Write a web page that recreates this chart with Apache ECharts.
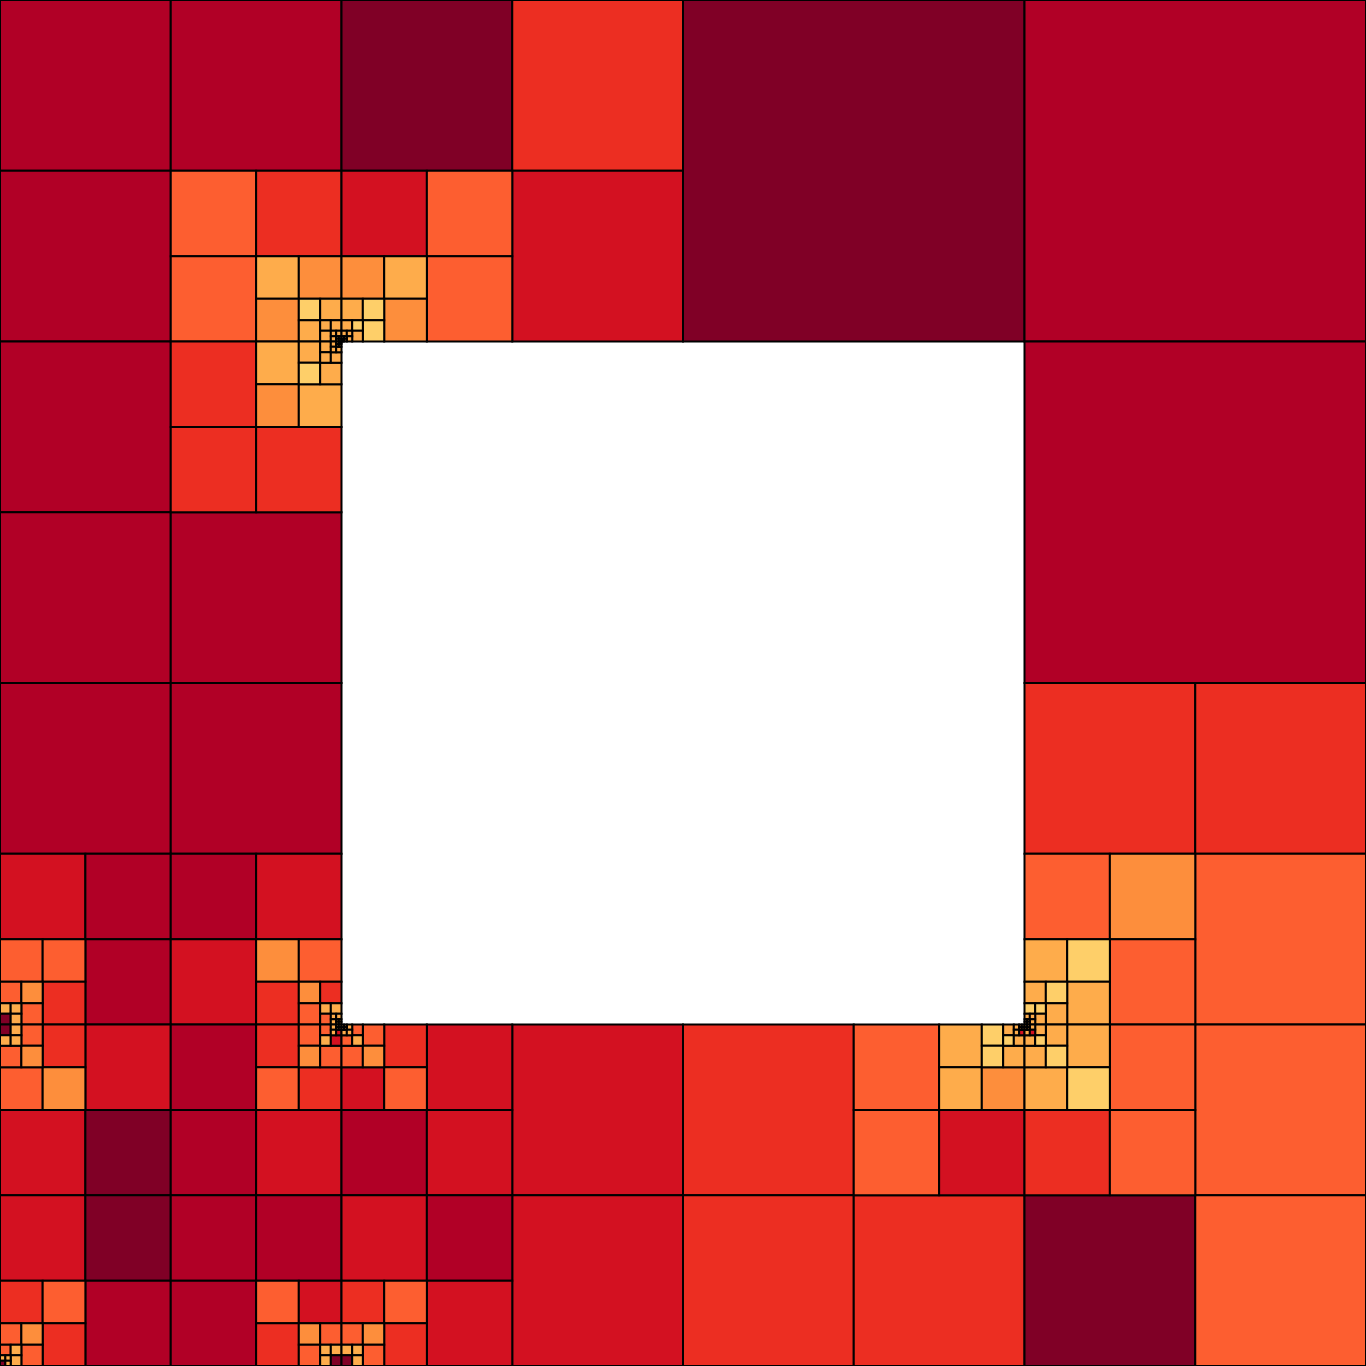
<!DOCTYPE html>
<html>
<head>
<meta charset="utf-8">
<script src="https://cdn.jsdelivr.net/npm/echarts@6/dist/echarts.min.js"></script>
<style>
html,body{margin:0;padding:0;background:#fff;}
#chart{width:1366px;height:1366px;}
</style>
</head>
<body>
<div id="chart"></div>
<script>
// Quadtree mesh on [0,4]x[0,4] with the hole [1,3]x[1,3] (y runs downward).
// Each root is a 1x1 unit cell; a number = leaf with colour level (0 = darkest),
// an array of 4 = subdivided into [top-left, top-right, bottom-left, bottom-right].
const rootCol = [0, 1, 2, 3, 0, 3, 0, 3, 0, 1, 2, 3];
const rootRow = [0, 0, 0, 0, 1, 1, 2, 2, 3, 3, 3, 3];

const rootA = [1, 1, 1,
  [4, 3, 4,
    [6, 5, 5,
      [7, 6, 6,
        [6, 6, 6,
          [6, 6, 6, [7, 6, 6, 6]]]]]]];

const rootB = [0, 3,
  [2, 4,
    [5, 6,
      [6, 7,
        [6, 7,
          [6, 6,
            [6, 6, [6, 7, 6, 6], 6],
          6],
        6],
      7],
    5],
  4],
2];

const rootC = 0;
const rootD = 1;

const rootE = [1,
  [3,
    [6,
      [6,
        [6,
          [6,
            [6, [6, 6, 7, 6], 6, 6],
          6, 6],
        6, 6],
      7, 6],
    5, 6],
  3, 3],
1, 1];

const rootF = 1;

const rootG = [1, 1,
  [2, 1, [4, 4, [4, 5, [6, 6, 0, 6], 4], 3], 1],
  [1, 2, 2, [5, 4, 3, [5, 3, 4, [6, 6, 4, [6, 6, 6, [6, 6, 6, 6]]]]]]
];

const rootH = [3, 3,
  [4, 5, [6, 7, [6, 7, [7, 7, [6, 6, [6, 6, 6, 6], 6], 6], 6], 6], 4],
  4];

const rootI = [
  [[[[0, 6, 6, 6], 4, 4, 5], 3, 4, 5], 2, 2, 0],
  [1, [3, [4, [4, [6, [6, 6, 6, 6], 6, 2], 6, 2], 5, 4], 4, 3], 1, 2],
  [2, 0, [3, 4, [4, 5, [4, 6, [6, 6, 0, 6], 6], 4], 3], 1],
  [1, 1, 1, [4, 2, 3, [5, 4, 4, [6, 6, 6, 0]]]]
];

const rootJ = [
  [[[[[[6, 6, 6, 6], 6, 6, 6], 4, 4, 6], 4, 4, 5], 3, 2, 4], 2, 1, 2],
  2,
  [2, 1, [3, 4, [4, 5, [6, 6, 0, 6], 4], 3], 2],
  2
];

const rootK = [3,
  [4, [6, [7, [6, [6, [6, 6, 6, 6], 6, 2], 7, 6], 7, 6], 6, 5], 4, 2],
  3, 3];

const rootL = [
  [[[[[[6, 6, 6, 6], 6, 6, 2], 6, 6, 7], 6, 6, 7], 6, 6, 7], 4, 3, 4],
  4, 0, 4];

const rootTrees = [rootA, rootB, rootC, rootD, rootE, rootF, rootG, rootH, rootI, rootJ, rootK, rootL];

const levelColors = ['#800026', '#b10026', '#d31121', '#ec2e22', '#fd5e30', '#fd8e3c', '#feac4b', '#fecf69'];

function walk(node, x, y, s, out) {
  if (Array.isArray(node)) {
    const h = s / 2;
    walk(node[0], x, y, h, out);
    walk(node[1], x + h, y, h, out);
    walk(node[2], x, y + h, h, out);
    walk(node[3], x + h, y + h, h, out);
  } else {
    out.push([x, y, x + s, y + s, node]);
  }
}

const cells = [];
rootTrees.forEach((t, i) => walk(t, rootCol[i], rootRow[i], 1, cells));
// draw large cells first
cells.sort((a, b) => (b[2] - b[0]) - (a[2] - a[0]));

const chart = echarts.init(document.getElementById('chart'), null, {renderer: 'canvas'});
chart.setOption({
  animation: false,
  backgroundColor: '#ffffff',
  grid: {left: 0, right: 0, top: 0, bottom: 0},
  xAxis: {type: 'value', min: 0, max: 4, show: false},
  yAxis: {type: 'value', min: 0, max: 4, inverse: true, show: false},
  series: [{
    type: 'custom',
    data: cells,
    dimensions: ['x0', 'y0', 'x1', 'y1', 'level'],
    encode: {x: [0, 2], y: [1, 3]},
    clip: false,
    renderItem: function (params, api) {
      const a = api.coord([api.value(0), api.value(1)]);
      const b = api.coord([api.value(2), api.value(3)]);
      return {
        type: 'rect',
        shape: {
          x: Math.min(a[0], b[0]),
          y: Math.min(a[1], b[1]),
          width: Math.abs(b[0] - a[0]),
          height: Math.abs(b[1] - a[1])
        },
        style: {
          fill: levelColors[api.value(4)],
          stroke: '#000',
          lineWidth: 2
        }
      };
    }
  }]
});
</script>
</body>
</html>
